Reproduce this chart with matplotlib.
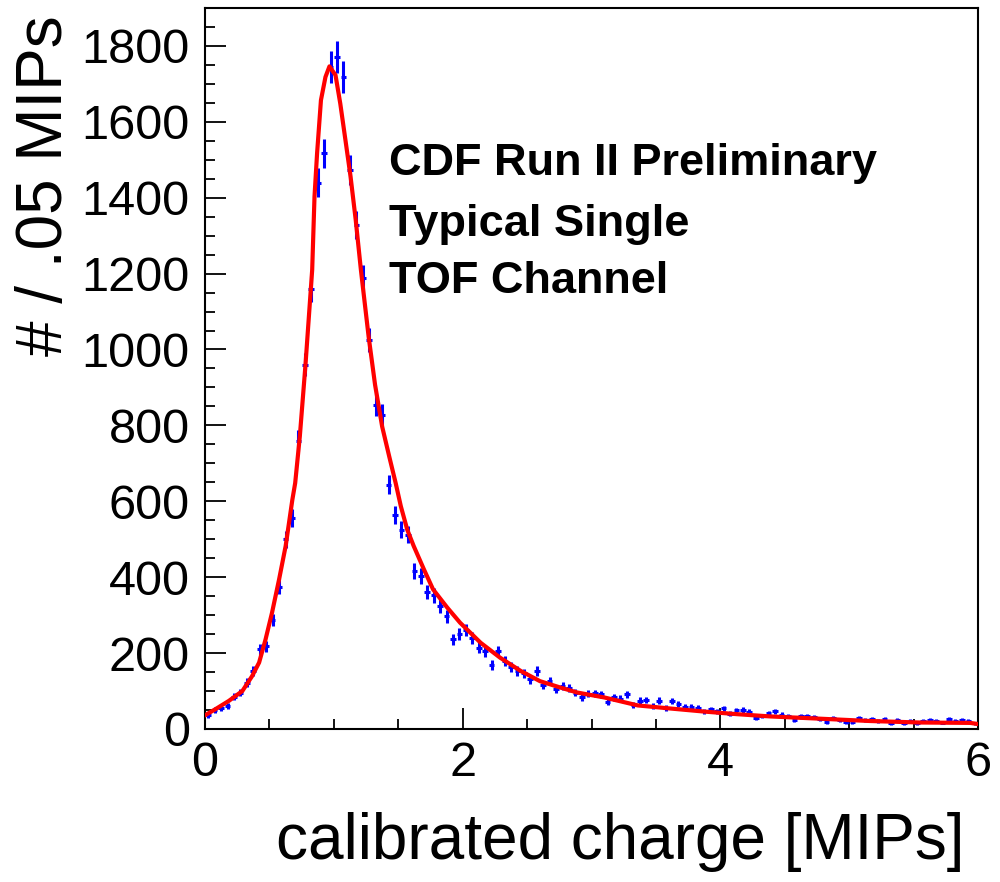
import numpy as np
import matplotlib
matplotlib.use("Agg")
import matplotlib.pyplot as plt
from matplotlib.ticker import MultipleLocator

plt.rcParams['font.family'] = ['Liberation Sans', 'DejaVu Sans']

# bin centres (0.05 wide) and counts
bin_x = np.arange(120) * 0.05 + 0.025
counts = [36, 50, 56, 60, 85, 96, 122, 153, 210, 218,
          287, 375, 500, 556, 760, 960, 1160, 1440, 1517, 1745,
          1770, 1718, 1473, 1328, 1188, 1025, 855, 828, 644, 565,
          525, 512, 416, 403, 361, 352, 324, 297, 236, 249,
          261, 240, 214, 205, 168, 205, 179, 164, 153, 147,
          131, 153, 115, 126, 106, 112, 107, 96, 84, 93,
          94, 91, 72, 84, 80, 91, 62, 75, 76, 61,
          75, 56, 74, 65, 58, 59, 56, 47, 52, 47,
          54, 40, 49, 50, 46, 29, 34, 42, 47, 38,
          34, 23, 33, 34, 32, 26, 18, 30, 23, 18,
          18, 28, 23, 26, 21, 27, 15, 23, 15, 21,
          15, 21, 23, 21, 17, 26, 21, 24, 21, 15]
counts = np.array(counts)

# fitted curve, points
fit_x = [0.0, 0.08, 0.185, 0.29, 0.365, 0.42, 0.47, 0.52, 0.575, 0.626,
         0.678, 0.70, 0.736, 0.78, 0.832, 0.85, 0.87, 0.90, 0.935, 0.966,
         1.013, 1.05, 1.09, 1.13, 1.17, 1.21, 1.27, 1.32, 1.375, 1.43,
         1.48, 1.52, 1.57, 1.62, 1.70, 1.77, 1.88, 1.98, 2.14, 2.29,
         2.45, 2.60, 2.76, 2.89, 3.1, 3.36, 3.61, 3.87, 4.13, 4.39,
         4.78, 5.16, 5.55, 5.94, 6.0]
fit_y = [36, 52, 74, 100, 139, 175, 236, 306, 394, 482,
         604, 648, 771, 960, 1210, 1403, 1517, 1657, 1718, 1746,
         1723, 1648, 1552, 1455, 1341, 1210, 1034, 907, 797, 718,
         648, 587, 525, 482, 420, 368, 320, 280, 227, 188,
         153, 126, 109, 96, 83, 62, 54, 46, 39, 33,
         27, 21, 17, 16, 13]

labels = ['CDF Run II Preliminary', 'Typical Single', 'TOF Channel']

fig = plt.figure(figsize=(10, 8.82), dpi=100)
ax = fig.add_axes([0.205, 0.1735, 0.773, 0.8175])

ax.errorbar(bin_x, counts, yerr=np.sqrt(counts), xerr=0.022, fmt='none',
            ecolor='blue', elinewidth=2.2, capsize=0, zorder=2)
ax.plot(fit_x, fit_y, color='red', linewidth=3, zorder=3)

ax.set_xlim(0, 6)
ax.set_ylim(0, 1900)
ax.xaxis.set_major_locator(MultipleLocator(2))
ax.xaxis.set_minor_locator(MultipleLocator(0.5))
ax.yaxis.set_major_locator(MultipleLocator(200))
ax.yaxis.set_minor_locator(MultipleLocator(50))
ax.tick_params(which='both', direction='in', top=False, right=False,
               labelsize=35, width=1.3)
ax.tick_params(which='major', length=15)
ax.tick_params(which='minor', length=7.5)
ax.tick_params(axis='y', pad=11)
ax.tick_params(axis='x', pad=9)
for s in ax.spines.values():
    s.set_linewidth(1.5)

ax.set_xlabel('calibrated charge [MIPs]', fontsize=46, ha='right', va='top')
ax.xaxis.set_label_coords(0.983, -0.115)
ax.set_ylabel('# / .05 MIPs', fontsize=46, ha='right', va='center')
ax.yaxis.set_label_coords(-0.207, 0.99)

for ty, txt in zip([1460, 1299, 1149], labels):
    ax.text(1.425, ty, txt, fontsize=32.5, fontweight='bold',
            va='baseline', ha='left')

fig.savefig('out.png', dpi=100)
